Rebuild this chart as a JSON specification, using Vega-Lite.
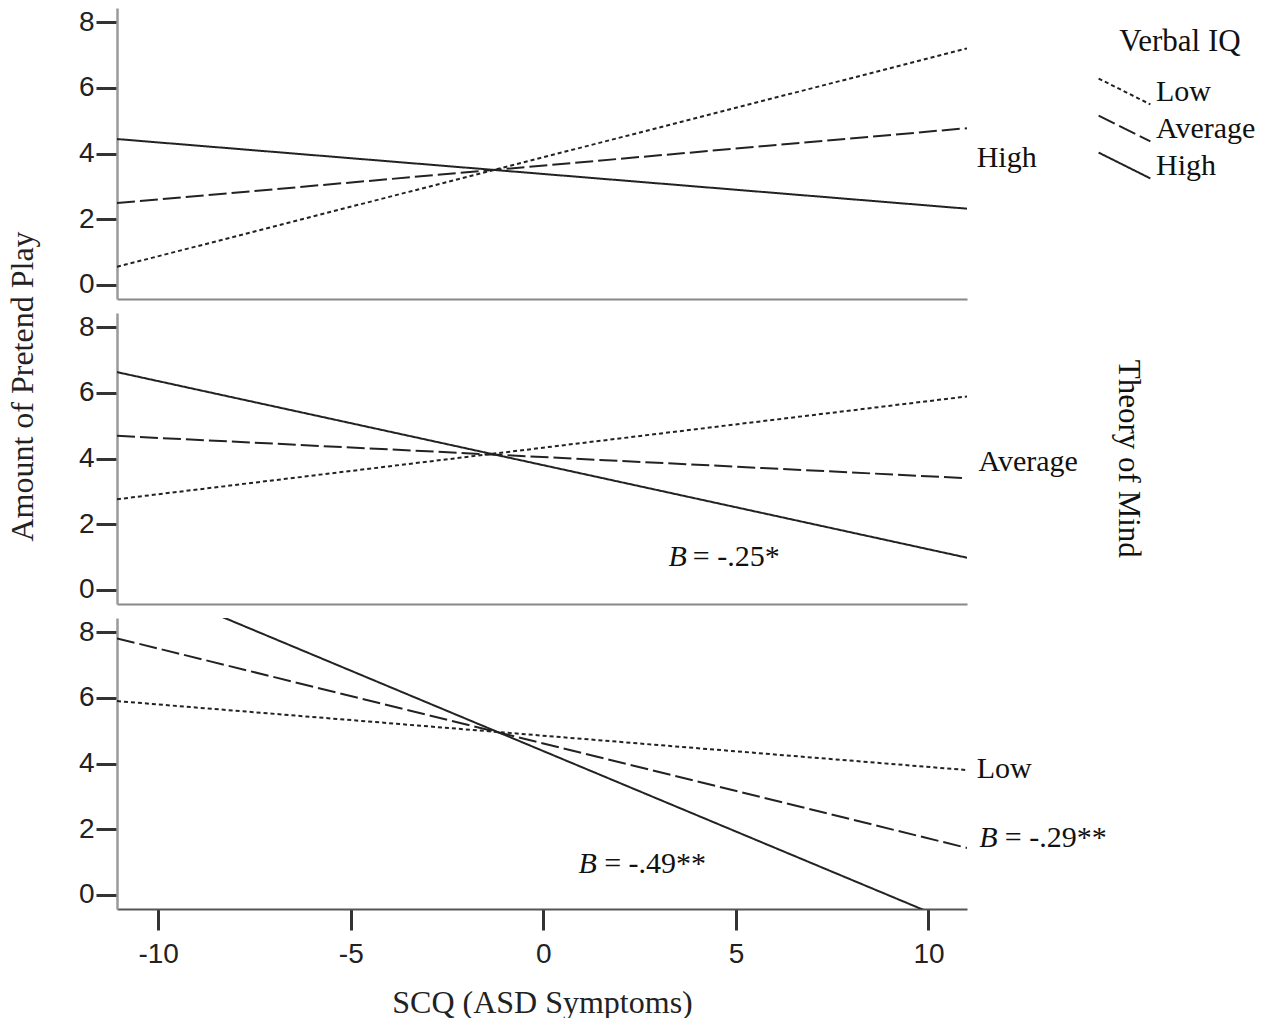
{
  "$schema": "https://vega.github.io/schema/vega-lite/v6.json",
  "padding": {"left": 5, "top": 8, "right": 0, "bottom": 0},
  "background": "white",
  "bounds": "flush",
  "datasets": {
    "lines": [
      {"tom": "High", "viq": "Low", "x": -11.07, "y": 0.55},
      {"tom": "High", "viq": "Low", "x": 11.0, "y": 7.2},
      {"tom": "High", "viq": "Average", "x": -11.07, "y": 2.49},
      {"tom": "High", "viq": "Average", "x": 11.0, "y": 4.77},
      {"tom": "High", "viq": "High", "x": -11.07, "y": 4.44},
      {"tom": "High", "viq": "High", "x": 11.0, "y": 2.32},
      {"tom": "Average", "viq": "Low", "x": -11.07, "y": 2.76},
      {"tom": "Average", "viq": "Low", "x": 11.0, "y": 5.89},
      {"tom": "Average", "viq": "Average", "x": -11.07, "y": 4.69},
      {"tom": "Average", "viq": "Average", "x": 11.0, "y": 3.4},
      {"tom": "Average", "viq": "High", "x": -11.07, "y": 6.63},
      {"tom": "Average", "viq": "High", "x": 11.0, "y": 0.98},
      {"tom": "Low", "viq": "Low", "x": -11.07, "y": 5.9},
      {"tom": "Low", "viq": "Low", "x": 11.0, "y": 3.8},
      {"tom": "Low", "viq": "Average", "x": -11.07, "y": 7.81},
      {"tom": "Low", "viq": "Average", "x": 11.0, "y": 1.43},
      {"tom": "Low", "viq": "High", "x": -11.07, "y": 9.8},
      {"tom": "Low", "viq": "High", "x": 11.0, "y": -1.01}
    ],
    "labels": [
      {"tom": "High", "kind": "level", "text": "High", "x": 11.25, "y": 3.86},
      {"tom": "Average", "kind": "level", "text": "Average", "x": 11.3, "y": 3.9},
      {"tom": "Low", "kind": "level", "text": "Low", "x": 11.25, "y": 3.83},
      {"tom": "Average", "kind": "coefB", "text": "B", "x": 3.25, "y": 1.01},
      {"tom": "Average", "kind": "coefValue", "text": "= -.25*", "x": 3.88, "y": 1.01},
      {"tom": "Low", "kind": "coefB", "text": "B", "x": 11.32, "y": 1.73},
      {"tom": "Low", "kind": "coefValue", "text": "= -.29**", "x": 11.98, "y": 1.73},
      {"tom": "Low", "kind": "coefB", "text": "B", "x": 0.91, "y": 0.94},
      {"tom": "Low", "kind": "coefValue", "text": "= -.49**", "x": 1.58, "y": 0.94},
      {"tom": "Average", "kind": "side", "text": "Theory of Mind", "x": 15.19, "y": 3.99}
    ]
  },
  "vconcat": [
    {
      "width": 850, "height": 291,
      "layer": [
        {
          "data": {"name": "lines"},
          "transform": [{"filter": "datum.tom === 'High'"}],
          "mark": {"type": "line", "clip": true, "color": "#222", "strokeWidth": 2},
          "encoding": {
            "x": {"field": "x", "type": "quantitative", "scale": {"domain": [-11.07, 11.0], "nice": false, "zero": false},
                  "axis": {"ticks": false, "labels": false, "title": null, "domainColor": "#888", "domainWidth": 2}},
            "y": {"field": "y", "type": "quantitative", "scale": {"domain": [-0.43, 8.43], "nice": false, "zero": false},
                  "axis": {"values": [0, 2, 4, 6, 8], "title": null}},
            "strokeDash": {"field": "viq", "type": "nominal", "title": "Verbal IQ",
                  "scale": {"domain": ["Low", "Average", "High"], "range": [[4, 3], [18, 5], [1, 0]]}}
          }
        },
        {
          "data": {"name": "labels"},
          "transform": [{"filter": "datum.tom === 'High' && datum.kind === 'level'"}],
          "mark": {"type": "text", "align": "left", "baseline": "middle", "font": "Liberation Serif", "fontSize": 30, "color": "#111"},
          "encoding": {
            "x": {"field": "x", "type": "quantitative"},
            "y": {"field": "y", "type": "quantitative"},
            "text": {"field": "text"}
          }
        }
      ]
    },
    {
      "width": 850, "height": 291,
      "layer": [
        {
          "data": {"name": "lines"},
          "transform": [{"filter": "datum.tom === 'Average'"}],
          "mark": {"type": "line", "clip": true, "color": "#222", "strokeWidth": 2},
          "encoding": {
            "x": {"field": "x", "type": "quantitative", "scale": {"domain": [-11.07, 11.0], "nice": false, "zero": false},
                  "axis": {"ticks": false, "labels": false, "title": null, "domainColor": "#888", "domainWidth": 2}},
            "y": {"field": "y", "type": "quantitative", "scale": {"domain": [-0.43, 8.43], "nice": false, "zero": false},
                  "axis": {"values": [0, 2, 4, 6, 8], "title": "Amount of Pretend Play", "titleAngle": -90, "titleX": -95, "titleY": 73, "titleAlign": "center", "titleBaseline": "middle"}},
            "strokeDash": {"field": "viq", "type": "nominal", "title": "Verbal IQ",
                  "scale": {"domain": ["Low", "Average", "High"], "range": [[4, 3], [18, 5], [1, 0]]}}
          }
        },
        {
          "data": {"name": "labels"},
          "transform": [{"filter": "datum.tom === 'Average' && (datum.kind === 'level' || datum.kind === 'coefValue')"}],
          "mark": {"type": "text", "align": "left", "baseline": "middle", "font": "Liberation Serif", "fontSize": 30, "color": "#111"},
          "encoding": {
            "x": {"field": "x", "type": "quantitative"},
            "y": {"field": "y", "type": "quantitative"},
            "text": {"field": "text"}
          }
        },
        {
          "data": {"name": "labels"},
          "transform": [{"filter": "datum.tom === 'Average' && datum.kind === 'coefB'"}],
          "mark": {"type": "text", "align": "left", "baseline": "middle", "font": "Liberation Serif", "fontSize": 30, "fontStyle": "italic", "color": "#111"},
          "encoding": {
            "x": {"field": "x", "type": "quantitative"},
            "y": {"field": "y", "type": "quantitative"},
            "text": {"field": "text"}
          }
        },
        {
          "data": {"name": "labels"},
          "transform": [{"filter": "datum.kind === 'side'"}],
          "mark": {"type": "text", "align": "center", "baseline": "middle", "angle": 90, "font": "Liberation Serif", "fontSize": 31, "color": "#111"},
          "encoding": {
            "x": {"field": "x", "type": "quantitative"},
            "y": {"field": "y", "type": "quantitative"},
            "text": {"field": "text"}
          }
        }
      ]
    },
    {
      "width": 850, "height": 291,
      "layer": [
        {
          "data": {"name": "lines"},
          "transform": [{"filter": "datum.tom === 'Low'"}],
          "mark": {"type": "line", "clip": true, "color": "#222", "strokeWidth": 2},
          "encoding": {
            "x": {"field": "x", "type": "quantitative", "scale": {"domain": [-11.07, 11.0], "nice": false, "zero": false},
                  "axis": {"values": [-10, -5, 0, 5, 10], "labelExpr": "replace(datum.label, '−', '-')", "title": "SCQ (ASD Symptoms)", "labelPadding": 10, "titlePadding": 19, "domainColor": "#555", "domainWidth": 2}},
            "y": {"field": "y", "type": "quantitative", "scale": {"domain": [-0.43, 8.43], "nice": false, "zero": false},
                  "axis": {"values": [0, 2, 4, 6, 8], "title": null}},
            "strokeDash": {"field": "viq", "type": "nominal", "title": "Verbal IQ",
                  "scale": {"domain": ["Low", "Average", "High"], "range": [[4, 3], [18, 5], [1, 0]]}}
          }
        },
        {
          "data": {"name": "labels"},
          "transform": [{"filter": "datum.tom === 'Low' && (datum.kind === 'level' || datum.kind === 'coefValue')"}],
          "mark": {"type": "text", "align": "left", "baseline": "middle", "font": "Liberation Serif", "fontSize": 30, "color": "#111"},
          "encoding": {
            "x": {"field": "x", "type": "quantitative"},
            "y": {"field": "y", "type": "quantitative"},
            "text": {"field": "text"}
          }
        },
        {
          "data": {"name": "labels"},
          "transform": [{"filter": "datum.tom === 'Low' && datum.kind === 'coefB'"}],
          "mark": {"type": "text", "align": "left", "baseline": "middle", "font": "Liberation Serif", "fontSize": 30, "fontStyle": "italic", "color": "#111"},
          "encoding": {
            "x": {"field": "x", "type": "quantitative"},
            "y": {"field": "y", "type": "quantitative"},
            "text": {"field": "text"}
          }
        }
      ]
    }
  ],
  "spacing": 14,
  "config": {
    "view": {"stroke": null},
    "axis": {
      "grid": false,
      "domainColor": "#9a9a9a",
      "domainWidth": 2.5,
      "tickColor": "#333",
      "tickWidth": 3,
      "tickSize": 21,
      "labelFont": "Liberation Sans",
      "labelFontSize": 28,
      "labelColor": "#222",
      "labelPadding": 2,
      "titleFont": "Liberation Serif",
      "titleFontSize": 32,
      "titleFontWeight": "normal",
      "titleColor": "#222"
    },
    "legend": {
      "orient": "none",
      "legendX": 988,
      "legendY": 19,
      "titleFont": "Liberation Serif",
      "titleFontSize": 31,
      "titleFontWeight": "normal",
      "titleColor": "#111",
      "titleAnchor": "middle",
      "titlePadding": 14,
      "labelFont": "Liberation Serif",
      "labelFontSize": 30,
      "labelColor": "#111",
      "labelOffset": 12,
      "symbolType": "M-1.4,-0.7L1.4,0.7",
      "symbolSize": 1369,
      "symbolStrokeWidth": 2,
      "symbolStrokeColor": "#222",
      "rowPadding": 0
    }
  }
}
